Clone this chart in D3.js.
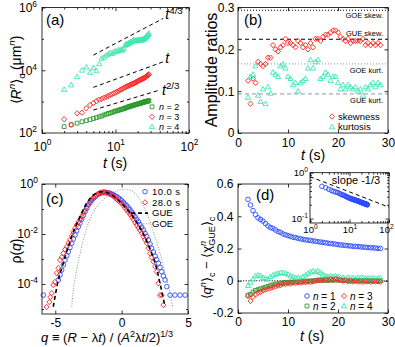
<!DOCTYPE html>
<html>
<head>
<meta charset="utf-8">
<script src="https://cdn.jsdelivr.net/npm/d3@7"></script>
<style>
  body { margin: 0; background: #fff; }
  svg { display: block; }
</style>
</head>
<body>
<script>
// ------------------------------------------------------------
// Data
// ------------------------------------------------------------

// sampling times (s), shared by panels (a), (b), (d)
var times = [2, 2.5, 3, 3.5, 4, 4.5, 5, 5.5, 6, 6.5, 7, 7.5, 8, 8.5, 9, 9.5, 10, 10.5,
    11, 11.5, 12, 12.5, 13, 13.5, 14, 14.5, 15, 15.5, 16, 16.5, 17, 17.5, 18, 18.5,
    19, 19.5, 20, 20.5, 21, 21.5, 22, 22.5, 23, 23.5, 24, 24.5, 25, 25.5, 26, 26.5,
    27, 27.5, 28, 28.5];

// (a) cumulants <R^n>_c (um^n)
var cumR2 = [160, 182, 205, 228, 248, 268, 290, 308, 330, 348, 375, 398, 420, 438, 455, 478,
    500, 515, 530, 548, 565, 582, 600, 617, 640, 665, 680, 698, 715, 730, 745, 762, 780, 795,
    808, 822, 838, 850, 865, 880, 895, 910, 925, 940, 955, 968, 982, 995, 1005, 1020, 1035,
    1045, 1058, 1070];
var cumR3 = [275, 185, 425, 445, 615, 780, 900, 1040, 1150, 1230, 1330, 1420, 1530, 1640,
    1740, 1840, 1950, 2060, 2200, 2340, 2450, 2590, 2730, 2870, 2980, 3100, 3200, 3340, 3460,
    3560, 3680, 3780, 3900, 4030, 4180, 4330, 4470, 4600, 4750, 4900, 5020, 5150, 5280, 5400,
    5550, 5680, 5820, 6000, 6200, 6450, 6700, 6950, 7200, 7450];
var cumR4 = [2450, 3400, 6200, 10000, 12500, 8500, 12000, 9500, 16000, 24000, 26000, 30000,
    33000, 36000, 34000, 38000, 41000, 40000, 44000, 43000, 46000, 44000, 50000, 62000, 70000,
    66000, 74000, 72000, 80000, 78000, 86000, 91000, 88000, 92000, 85000, 90000, 94000, 88000,
    92000, 96000, 90000, 94000, 92000, 98000, 95000, 100000, 104000, 108000, 115000, 120000,
    128000, 135000, 142000, 150000];

// (a) guide lines: [t, value] end points, with exponent label
var guideLines = [
    {exp: "4/3", pts: [[5, 30500], [44.7, 450000]]},
    {exp: "",    pts: [[5, 2850], [44.7, 18600]]},
    {exp: "2/3", pts: [[5, 540], [40.3, 2350]]}
];

// (b) amplitude ratios
var skewness = [0.125, 0.07, 0.13, 0.12, 0.17, 0.165, 0.16, 0.165, 0.18, 0.18, 0.21, 0.20,
    0.195, 0.205, 0.21, 0.225, 0.215, 0.215, 0.21, 0.205, 0.22, 0.215, 0.205, 0.21, 0.20, 0.215,
    0.205, 0.225, 0.225, 0.22, 0.23, 0.235, 0.235, 0.24, 0.245, 0.245, 0.24, 0.23, 0.225, 0.22,
    0.225, 0.215, 0.22, 0.22, 0.22, 0.22, 0.225, 0.21, 0.215, 0.21, 0.215, 0.21, 0.215, 0.21];
var kurtosis = [0.085, 0.135, 0.14, 0.16, 0.09, 0.075, 0.105, 0.07, 0.11, 0.095, 0.145, 0.14,
    0.135, 0.16, 0.165, 0.155, 0.135, 0.13, 0.115, 0.12, 0.10, 0.12, 0.125, 0.13, 0.155, 0.175,
    0.155, 0.17, 0.175, 0.13, 0.135, 0.145, 0.14, 0.125, 0.135, 0.135, 0.12, 0.105, 0.115, 0.105,
    0.115, 0.11, 0.105, 0.11, 0.10, 0.105, 0.09, 0.11, 0.105, 0.115, 0.12, 0.11, 0.12, 0.115];
var refRatios = [
    {label: "GOE skew.", value: 0.2935, kind: "goe", color: "#000"},
    {label: "GUE skew.", value: 0.2241, kind: "gue", color: "#000"},
    {label: "GOE kurt.", value: 0.1652, kind: "goe", color: "#8a98a6"},
    {label: "GUE kurt.", value: 0.0934, kind: "gue", color: "#8a98a6"}
];

// (c) histograms [q, rho(q)]
var pdf10s = [[-5.90, 3.6e-5], [-4.77, 1.45e-4], [-4.64, 2.3e-4], [-4.52, 3.6e-4], [-4.39, 5.8e-4],
    [-4.27, 9.1e-4], [-4.14, 1.35e-3], [-4.02, 1.95e-3], [-3.89, 2.9e-3], [-3.76, 4.3e-3],
    [-3.64, 6.3e-3], [-3.51, 9.1e-3], [-3.39, 0.0135], [-3.26, 0.0195], [-3.14, 0.0275],
    [-3.01, 0.039], [-2.89, 0.055], [-2.76, 0.078], [-2.63, 0.107], [-2.51, 0.145], [-2.38, 0.182],
    [-2.26, 0.224], [-2.13, 0.269], [-2.01, 0.309], [-1.88, 0.355], [-1.76, 0.398], [-1.63, 0.427],
    [-1.51, 0.457], [-1.38, 0.468], [-1.26, 0.468], [-1.13, 0.457], [-1.00, 0.447], [-0.88, 0.427],
    [-0.75, 0.398], [-0.62, 0.372], [-0.50, 0.339], [-0.37, 0.309], [-0.25, 0.282], [-0.12, 0.245],
    [0.00, 0.214], [0.13, 0.186], [0.25, 0.158], [0.38, 0.135], [0.51, 0.112], [0.63, 0.093],
    [0.76, 0.076], [0.88, 0.062], [1.01, 0.049], [1.13, 0.039], [1.26, 0.031], [1.38, 0.024],
    [1.51, 0.0186], [1.64, 0.0145], [1.76, 0.0107], [1.89, 7.9e-3], [2.01, 5.8e-3], [2.14, 4.0e-3],
    [2.26, 2.7e-3], [2.39, 1.9e-3], [2.52, 1.3e-3], [2.64, 9.5e-4], [2.77, 6.8e-4], [2.89, 4.6e-4],
    [3.02, 3.1e-4], [3.14, 2.1e-4], [3.27, 1.45e-4], [3.40, 7.8e-5], [3.65, 3.6e-5], [4.02, 3.6e-5],
    [4.40, 3.6e-5], [4.78, 3.6e-5]];
var pdf28s = [[-5.65, 1.2e-5], [-5.45, 1.9e-5], [-5.38, 3.0e-5], [-5.27, 4.3e-5], [-5.15, 9.1e-5],
    [-5.02, 1.2e-4], [-4.89, 2.7e-4], [-4.77, 4.3e-4], [-4.64, 9.1e-4], [-4.51, 1.2e-3],
    [-4.39, 1.7e-3], [-4.26, 2.4e-3], [-4.14, 3.1e-3], [-4.01, 4.4e-3], [-3.89, 5.8e-3],
    [-3.76, 8.5e-3], [-3.64, 0.0123], [-3.51, 0.017], [-3.39, 0.0229], [-3.26, 0.030], [-3.14, 0.038],
    [-3.01, 0.049], [-2.89, 0.068], [-2.76, 0.091], [-2.63, 0.123], [-2.51, 0.155], [-2.38, 0.19],
    [-2.26, 0.229], [-2.13, 0.275], [-2.01, 0.316], [-1.88, 0.363], [-1.76, 0.40], [-1.63, 0.427],
    [-1.50, 0.447], [-1.38, 0.457], [-1.25, 0.457], [-1.13, 0.447], [-1.00, 0.417], [-0.88, 0.389],
    [-0.75, 0.363], [-0.62, 0.324], [-0.50, 0.282], [-0.37, 0.245], [-0.25, 0.214], [-0.12, 0.19],
    [0.00, 0.17], [0.13, 0.138], [0.25, 0.112], [0.38, 0.091], [0.51, 0.074], [0.63, 0.060],
    [0.76, 0.049], [0.88, 0.038], [1.01, 0.0295], [1.13, 0.0229], [1.26, 0.0178], [1.38, 0.0138],
    [1.51, 0.0107], [1.64, 7.9e-3], [1.76, 5.9e-3], [1.89, 4.3e-3], [2.01, 2.7e-3], [2.14, 1.7e-3],
    [2.26, 1.15e-3], [2.39, 7.8e-4], [2.52, 4.9e-4], [2.64, 3.1e-4], [2.77, 1.07e-4], [2.89, 3.6e-5],
    [3.02, 3.6e-5], [3.14, 1.45e-5]];
// theoretical Tracy-Widom curves, traced
var gueCurve = [[-5.15, 1.23e-5], [-4.77, 1.45e-4], [-4.39, 6.9e-4], [-4.02, 3.1e-3], [-3.64, 0.0123],
    [-3.14, 0.049], [-2.63, 0.17], [-2.13, 0.363], [-1.50, 0.49], [-0.87, 0.398], [-0.12, 0.195],
    [0.63, 0.069], [1.39, 0.0174], [2.01, 3.6e-3], [2.52, 6.8e-4], [2.89, 1.07e-4], [3.27, 1.23e-5]];
var goeCurve = [[-3.76, 1.23e-5], [-3.64, 5.8e-5], [-3.39, 3.6e-4], [-3.01, 3.1e-3], [-2.51, 0.027],
    [-1.88, 0.123], [-1.12, 0.309], [-0.37, 0.525], [0.38, 0.617], [0.88, 0.49], [1.39, 0.229],
    [1.89, 0.068], [2.39, 0.0123], [2.89, 1.7e-3], [3.27, 2.7e-4], [3.65, 4.3e-5], [3.85, 1.23e-5]];

// (d) <q^n>_c - <chi^n_GUE>_c
var diffQ1 = [0.505, 0.47, 0.435, 0.41, 0.39, 0.38, 0.37, 0.355, 0.34, 0.33, 0.325, 0.315, 0.305,
    0.30, 0.29, 0.285, 0.28, 0.275, 0.27, 0.268, 0.263, 0.26, 0.257, 0.254, 0.252, 0.25, 0.247,
    0.245, 0.242, 0.24, 0.238, 0.236, 0.233, 0.231, 0.229, 0.227, 0.224, 0.222, 0.221, 0.219,
    0.217, 0.216, 0.214, 0.213, 0.212, 0.21, 0.209, 0.208, 0.206, 0.205, 0.204, 0.203, 0.201, 0.20];
var diffQ2 = [-0.09, -0.085, -0.07, -0.06, -0.055, -0.05, -0.045, -0.04, -0.035, -0.03, -0.025,
    -0.02, -0.02, -0.015, -0.015, -0.01, -0.01, -0.008, -0.01, -0.005, -0.006, -0.004, -0.005,
    -0.002, -0.004, 0, -0.002, 0.002, 0, 0.003, 0.002, 0.004, 0.002, 0.004, 0.003, 0.005, 0.004,
    0.003, 0.004, 0.002, 0.003, 0.002, 0.003, 0.001, 0.002, 0.001, 0.002, 0, 0.001, 0, 0.001,
    -0.001, 0, 0];
var diffQ3 = [-0.095, -0.125, -0.1, -0.085, -0.075, -0.07, -0.06, -0.055, -0.05, -0.045, -0.04,
    -0.035, -0.03, -0.028, -0.02, -0.02, -0.015, -0.018, -0.012, -0.015, -0.01, -0.012, -0.008,
    -0.01, -0.005, -0.008, -0.004, 0, 0.004, 0.006, 0.003, 0.008, 0.005, 0.01, 0.006, 0.012, 0.008,
    0.004, 0, 0.002, -0.004, -0.002, -0.005, -0.003, -0.006, -0.004, -0.007, -0.005, -0.004,
    -0.006, -0.003, -0.005, -0.004, -0.006];
var diffQ4 = [-0.03, -0.01, 0.01, 0.03, 0.035, 0.03, 0.02, 0.015, 0.01, 0.025, 0.035, 0.04, 0.045,
    0.05, 0.05, 0.045, 0.04, 0.03, 0.025, 0.02, 0.02, 0.015, 0.025, 0.035, 0.045, 0.055, 0.06,
    0.055, 0.06, 0.05, 0.04, 0.03, 0.025, 0.03, 0.025, 0.03, 0.025, 0.02, 0.02, 0.015, 0.02, 0.015,
    0.018, 0.015, 0.02, 0.016, 0.018, 0.014, 0.016, 0.015, 0.017, 0.014, 0.016, 0.015];
// inset reference line, slope -1/3
var slopeLine = [[1, 0.82], [100, 0.177]];

// ------------------------------------------------------------
// Styling
// ------------------------------------------------------------
var FONT = '"Liberation Sans", Arial, Helvetica, sans-serif';
var TICK = 3.5, MINOR = 2;
var col = {blue: "#2b4cff", green: "#2e9a2e", red: "#ff2626", cyan: "#3de6b0"};

var svg = d3.select("body").append("svg")
    .attr("width", 395).attr("height", 347)
    .style("font-family", FONT);

// Write text made of parts (italic, superscript, subscript) into a <text>.
function rich(sel, parts, size) {
    var shift = 0;
    parts.forEach(function(p) {
        var target = p.sup ? -0.42 * size : p.sub ? 0.28 * size : 0;
        var ts = sel.append("tspan").text(p.t);
        if (target !== shift) ts.attr("dy", target - shift);
        if (p.dx) ts.attr("dx", p.dx);
        if (p.sup || p.sub) ts.attr("font-size", size * 0.7);
        if (p.it) ts.attr("font-style", "italic");
        shift = target;
    });
    return sel;
}

function addText(g, x, y, size, parts, anchor, rotate) {
    var t = g.append("text")
        .attr("font-size", size)
        .attr("text-anchor", anchor || "start");
    if (rotate) t.attr("transform", "translate(" + x + "," + y + ") rotate(-90)");
    else t.attr("x", x).attr("y", y);
    return rich(t, typeof parts === "string" ? [{t: parts}] : parts, size);
}

// tick labels like 10^4
function powerLabels(sel, size) {
    sel.selectAll(".tick text").each(function(d) {
        var e = Math.round(Math.log10(d));
        var t = d3.select(this).text(null);
        t.append("tspan").text("10");
        t.append("tspan").attr("dy", -0.42 * size).attr("font-size", size * 0.7).text(String(e));
    });
}

function decadeMinors(lo, hi) {
    var out = [];
    for (var e = Math.floor(Math.log10(lo)); e <= Math.ceil(Math.log10(hi)); e++) {
        for (var k = 2; k <= 9; k++) {
            var v = k * Math.pow(10, e);
            if (v > lo && v < hi) out.push(v);
        }
    }
    return out;
}

// Box frame with inward ticks on all four sides.
function drawAxes(g, x, y, o) {
    var xr = x.range(), yr = y.range();
    var size = o.size || 12;
    function clean(sel) {
        sel.select(".domain").remove();
        sel.attr("font-size", size).attr("font-family", FONT);
        sel.selectAll("line").attr("stroke", "#000").attr("stroke-width", 0.8);
    }
    var fmt = function(d) { return String(d); };
    var specs = [
        {ax: d3.axisBottom, s: x, t: "translate(0," + yr[0] + ")", ticks: o.xTicks, minor: o.xMinor, lab: true, pad: o.xPad, log: o.xLog},
        {ax: d3.axisTop, s: x, t: "translate(0," + yr[1] + ")", ticks: o.xTicks, minor: o.xMinor},
        {ax: d3.axisLeft, s: y, t: "translate(" + xr[0] + ",0)", ticks: o.yTicks, minor: o.yMinor, lab: true, pad: o.yPad, log: o.yLog},
        {ax: d3.axisRight, s: y, t: "translate(" + xr[1] + ",0)", ticks: o.yTicks, minor: o.yMinor}
    ];
    specs.forEach(function(sp) {
        var a = g.append("g").attr("transform", sp.t)
            .call(sp.ax(sp.s).tickValues(sp.ticks).tickSize(-TICK)
                .tickPadding(sp.pad || 4).tickFormat(sp.lab ? fmt : ""))
            .call(clean);
        if (sp.lab && sp.log) powerLabels(a, size);
        if (sp.minor) {
            g.append("g").attr("transform", sp.t)
                .call(sp.ax(sp.s).tickValues(sp.minor).tickSize(-MINOR).tickFormat(""))
                .call(clean);
        }
    });
    g.append("rect")
        .attr("x", xr[0]).attr("y", yr[1])
        .attr("width", xr[1] - xr[0]).attr("height", yr[0] - yr[1])
        .attr("fill", "none").attr("stroke", "#000").attr("stroke-width", 0.8);
}

function markerPath(shape) {
    if (shape === "square") return "M-1.9,-1.9H1.9V1.9H-1.9Z";
    if (shape === "diamond") return "M0,-2.7L2.5,0L0,2.7L-2.5,0Z";
    if (shape === "triangle") return "M0,-2.7L2.6,1.9L-2.6,1.9Z";
    return "M2.3,0A2.3,2.3 0 1 1 -2.3,0A2.3,2.3 0 1 1 2.3,0Z";
}

function drawMarkers(g, pts, x, y, shape, color) {
    g.append("g").selectAll("path").data(pts).enter().append("path")
        .attr("d", markerPath(shape))
        .attr("transform", function(d) { return "translate(" + x(d[0]) + "," + y(d[1]) + ")"; })
        .attr("fill", "none")
        .attr("stroke", color)
        .attr("stroke-width", 0.9);
}

function legendMarker(g, px, py, shape, color) {
    g.append("path").attr("d", markerPath(shape))
        .attr("transform", "translate(" + px + "," + py + ")")
        .attr("fill", "none").attr("stroke", color).attr("stroke-width", 0.9);
}

var nLabel = function(n) { return [{t: "n", it: true}, {t: " = " + n}]; };
var tLabel = [{t: "t", it: true}, {t: " (s)"}];

// ------------------------------------------------------------
// (a) cumulants vs time, log-log
// ------------------------------------------------------------
var xA = d3.scaleLog().domain([1, 100]).range([42, 189]);
var yA = d3.scaleLog().domain([100, 1e6]).range([133, 7.5]);
var gA = svg.append("g");

guideLines.forEach(function(gl) {
    gA.append("path")
        .attr("d", d3.line().x(function(d) { return xA(d[0]); }).y(function(d) { return yA(d[1]); })(gl.pts))
        .attr("fill", "none").attr("stroke", "#000").attr("stroke-width", 1)
        .attr("stroke-dasharray", "4,3");
    var end = gl.pts[1];
    var parts = [{t: "t", it: true}];
    if (gl.exp) parts.push({t: gl.exp, sup: true});
    addText(gA, xA(end[0]) + 2, yA(end[1]) + (gl.exp === "2/3" ? 5 : 1), 14, parts);
});

drawMarkers(gA, d3.zip(times, cumR2), xA, yA, "square", col.green);
drawMarkers(gA, d3.zip(times, cumR3), xA, yA, "diamond", col.red);
drawMarkers(gA, d3.zip(times, cumR4), xA, yA, "triangle", col.cyan);

drawAxes(gA, xA, yA, {
    xTicks: [1, 10, 100], xMinor: decadeMinors(1, 100), xLog: true, xPad: 9,
    yTicks: [1e2, 1e4, 1e6], yMinor: [1e3, 1e5], yLog: true, yPad: 5
});

[["square", col.green, 2], ["diamond", col.red, 3], ["triangle", col.cyan, 4]].forEach(function(e, i) {
    var by = 110 + i * 10;
    legendMarker(gA, 152, by - 3.2, e[0], e[1]);
    addText(gA, 159, by, 9, nLabel(e[2]));
});

addText(gA, 46, 25, 15, "(a)");
addText(gA, 115, 168, 14, tLabel, "middle");
addText(gA, 21, 70, 14, [{t: "\u27E8"}, {t: "R", it: true}, {t: "n", it: true, sup: true},
    {t: "\u27E9"}, {t: "c", sub: true}, {t: " (\u03BCm"}, {t: "n", it: true, sup: true}, {t: ")"}],
    "middle", true);

// ------------------------------------------------------------
// (b) amplitude ratios
// ------------------------------------------------------------
var xB = d3.scaleLinear().domain([0, 30]).range([238, 388]);
var yB = d3.scaleLinear().domain([0, 0.3]).range([133, 7.5]);
var gB = svg.append("g");

refRatios.forEach(function(r, i) {
    gB.append("line")
        .attr("x1", xB(0)).attr("x2", xB(30))
        .attr("y1", yB(r.value)).attr("y2", yB(r.value))
        .attr("stroke", r.color).attr("stroke-width", 1)
        .attr("stroke-dasharray", r.kind === "gue" ? "4,3" : "1,2");
    var off = [7.5, -3.5, 9, 9][i];
    gB.append("text").attr("x", xB(29)).attr("y", yB(r.value) + off)
        .attr("text-anchor", "end").attr("font-size", 7.5).text(r.label);
});

drawMarkers(gB, d3.zip(times, skewness), xB, yB, "diamond", col.red);
drawMarkers(gB, d3.zip(times, kurtosis), xB, yB, "triangle", col.cyan);

drawAxes(gB, xB, yB, {
    xTicks: [0, 10, 20, 30], xPad: 5,
    yTicks: [0, 0.1, 0.2, 0.3], yPad: 3.5
});

legendMarker(gB, 332, 116.5, "diamond", col.red);
addText(gB, 338, 119.5, 9.5, "skewness");
legendMarker(gB, 332, 127, "triangle", col.cyan);
addText(gB, 338, 130, 9.5, "kurtosis");

addText(gB, 244, 25, 15, "(b)");
addText(gB, 313, 160, 14, tLabel, "middle");
addText(gB, 217, 70, 16, "Amplitude ratios", "middle", true);

// ------------------------------------------------------------
// (c) distributions of rescaled radius
// ------------------------------------------------------------
var xC = d3.scaleLinear().domain([-6, 5]).range([42, 188]);
var yC = d3.scaleLog().domain([Math.pow(10, -5.2), 1]).range([314, 184]);
var gC = svg.append("g");
var curve = d3.line().x(function(d) { return xC(d[0]); }).y(function(d) { return yC(d[1]); })
    .curve(d3.curveCatmullRom);

gC.append("path").attr("d", curve(goeCurve))
    .attr("fill", "none").attr("stroke", "#7f92a3").attr("stroke-width", 1)
    .attr("stroke-dasharray", "1,1.6");

drawMarkers(gC, pdf10s, xC, yC, "circle", col.blue);
drawMarkers(gC, pdf28s, xC, yC, "diamond", col.red);

gC.append("path").attr("d", curve(gueCurve))
    .attr("fill", "none").attr("stroke", "#000").attr("stroke-width", 1.6)
    .attr("stroke-dasharray", "4,3");

drawAxes(gC, xC, yC, {
    xTicks: [-5, 0, 5], xPad: 4,
    yTicks: [1, 1e-2, 1e-4], yMinor: [1e-1, 1e-3, 1e-5], yLog: true, yPad: 4
});

var legC = [195, 205.7, 216.4, 227.1];
legendMarker(gC, 145, legC[0] - 3.3, "circle", col.blue);
addText(gC, 152, legC[0], 9.5, "10.0 s").attr("letter-spacing", 0.4);
legendMarker(gC, 145, legC[1] - 3.3, "diamond", col.red);
addText(gC, 152, legC[1], 9.5, "28.0 s").attr("letter-spacing", 0.4);
gC.append("line").attr("x1", 131).attr("x2", 148).attr("y1", legC[2] - 3.3).attr("y2", legC[2] - 3.3)
    .attr("stroke", "#000").attr("stroke-width", 1.6).attr("stroke-dasharray", "4,3");
addText(gC, 152, legC[2], 9.5, "GUE");
gC.append("line").attr("x1", 133).attr("x2", 150).attr("y1", legC[3] - 3.3).attr("y2", legC[3] - 3.3)
    .attr("stroke", "#7f92a3").attr("stroke-width", 1).attr("stroke-dasharray", "1,1.6");
addText(gC, 152, legC[3], 9.5, "GOE");

addText(gC, 46, 204, 15, "(c)");
addText(gC, 21, 251, 14, [{t: "\u03C1("}, {t: "q", it: true}, {t: ")"}], "middle", true);
addText(gC, 107, 342, 13, [{t: "q", it: true}, {t: " \u2261 ("}, {t: "R", it: true}, {t: " \u2212 \u03BB"},
    {t: "t", it: true}, {t: ") / ("}, {t: "A", it: true}, {t: "2", sup: true}, {t: "\u03BB"},
    {t: "t", it: true}, {t: "/2)"}, {t: "1/3", sup: true}], "middle");

// ------------------------------------------------------------
// (d) finite-time corrections
// ------------------------------------------------------------
var xD = d3.scaleLinear().domain([0, 30]).range([238, 388]);
var yD = d3.scaleLinear().domain([-0.2, 0.6]).range([313, 184]);
var gD = svg.append("g");

gD.append("line").attr("x1", xD(0)).attr("x2", xD(30)).attr("y1", yD(0)).attr("y2", yD(0))
    .attr("stroke", "#000").attr("stroke-width", 1).attr("stroke-dasharray", "1,1.6");

drawMarkers(gD, d3.zip(times, diffQ1), xD, yD, "circle", col.blue);
drawMarkers(gD, d3.zip(times, diffQ2), xD, yD, "square", col.green);
drawMarkers(gD, d3.zip(times, diffQ4), xD, yD, "triangle", col.cyan);
drawMarkers(gD, d3.zip(times, diffQ3), xD, yD, "diamond", col.red);

drawAxes(gD, xD, yD, {
    xTicks: [0, 10, 20, 30], xPad: 4,
    yTicks: [-0.2, 0, 0.2, 0.4, 0.6], yPad: 4.5
});

[["circle", col.blue, 1, 307, 296], ["diamond", col.red, 3, 344, 296],
 ["square", col.green, 2, 307, 306], ["triangle", col.cyan, 4, 344, 306]].forEach(function(e) {
    legendMarker(gD, e[3], e[4], e[0], e[1]);
    addText(gD, e[3] + 6, e[4] + 3.5, 10, nLabel(e[2]));
});

addText(gD, 256, 200, 15, "(d)");
addText(gD, 312, 341, 14, tLabel, "middle");
addText(gD, 211, 258, 13, [{t: "\u27E8"}, {t: "q", it: true}, {t: "n", it: true, sup: true},
    {t: "\u27E9"}, {t: "c", sub: true}, {t: " \u2212 \u27E8\u03C7"}, {t: "n", it: true, sup: true},
    {t: "GUE", sub: true, dx: -5}, {t: "\u27E9"}, {t: "c", sub: true}], "middle", true);

// inset: log-log view of n = 1
var xI = d3.scaleLog().domain([1, 100]).range([310, 389]);
var yI = d3.scaleLog().domain([0.08, 1]).range([223, 172.7]);
var gI = svg.append("g");
gI.append("rect").attr("x", 310).attr("y", 172.7).attr("width", 79).attr("height", 50.3)
    .attr("fill", "#fff");
gI.append("path")
    .attr("d", d3.line().x(function(d) { return xI(d[0]); }).y(function(d) { return yI(d[1]); })(slopeLine))
    .attr("fill", "none").attr("stroke", "#000").attr("stroke-width", 1)
    .attr("stroke-dasharray", "4,3");
drawMarkers(gI, d3.zip(times, diffQ1), xI, yI, "circle", col.blue);
drawAxes(gI, xI, yI, {
    size: 9.5,
    xTicks: [1, 10, 100], xMinor: decadeMinors(1, 100), xLog: true, xPad: 3,
    yTicks: [0.1, 1], yMinor: decadeMinors(0.08, 1), yLog: true, yPad: 2
});
// keep the last inset label inside the picture
gI.selectAll(".tick text").filter(function(d) { return d === 100; }).attr("dx", -3);
addText(gI, 356, 184, 11, "slope -1/3", "middle");
</script>
</body>
</html>
